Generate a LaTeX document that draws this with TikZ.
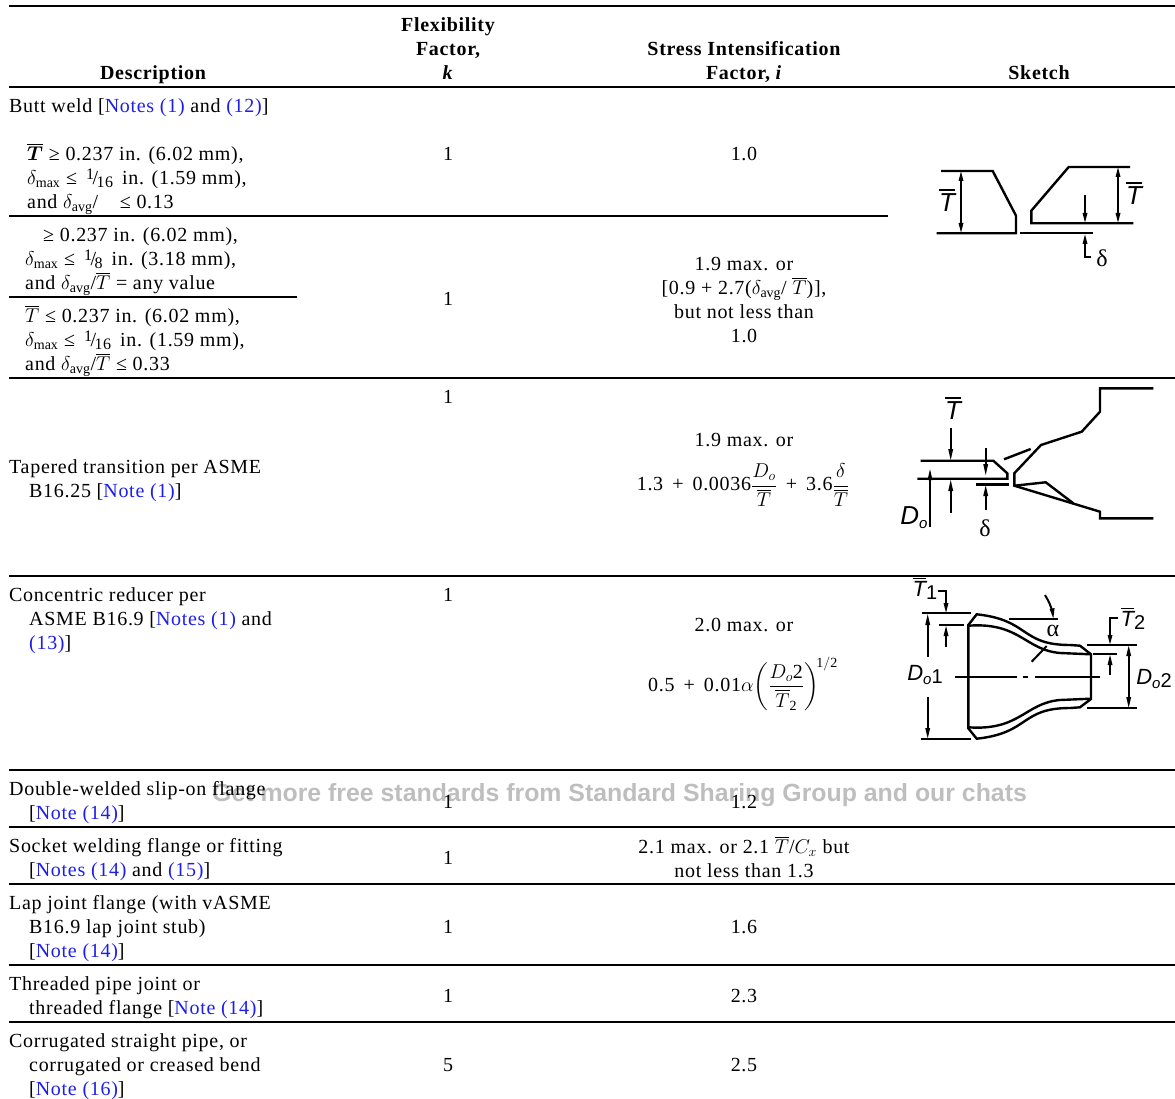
\documentclass[tikz,border=0pt]{standalone}
\usepackage{fix-cm}
\usepackage{amsmath, amssymb}
\usepackage{fontspec}
\setmainfont[LetterSpace=3.5]{Liberation Serif}
\newfontfamily\sketchfont{Liberation Sans}
\newfontfamily\markfont{Liberation Sans}
\usetikzlibrary{arrows,shapes}
\definecolor{noteblue}{RGB}{30,30,235}
\definecolor{markgray}{RGB}{190,190,190}
\newcommand{\note}[1]{\textcolor{noteblue}{#1}}
\newcommand{\frc}[2]{\,\raisebox{.55ex}{\fontsize{16}{16}\selectfont #1}\kern-.08em/\kern-.08em\raisebox{-.35ex}{\fontsize{16}{16}\selectfont #2}\,}
\newcommand{\Tb}{$\overline{T}$}
\newcommand{\sT}{$\overline{\mbox{\sketchfont\itshape T}}$}
\newcommand{\sub}[1]{\raisebox{-.3ex}{\fontsize{15}{15}\selectfont #1}}
\newcommand{\num}[1]{\raisebox{-.25ex}{\upshape\fontsize{20}{20}\selectfont #1}}
\begin{document}
\begin{tikzpicture}[x=1pt,y=1pt]
\tikzstyle{every node}+=[inner sep=0pt]
\tikzstyle{cell}=[anchor=base west,align=left,yshift=-0.7pt,font=\fontsize{20}{24}\selectfont]
\tikzstyle{mid}=[anchor=base,align=center,yshift=-0.7pt,font=\fontsize{20}{24}\selectfont]
\tikzstyle{head}=[anchor=base,align=center,yshift=-0.7pt,font=\fontsize{20}{24}\selectfont\bfseries]
\tikzstyle{eqn}=[anchor=center,font=\fontsize{20}{24}\selectfont]
\tikzstyle{dim}=[anchor=center,font=\fontsize{26}{26}\selectfont\sketchfont\itshape]
\tikzstyle{dimsmall}=[anchor=center,font=\fontsize{22}{22}\selectfont\sketchfont\itshape]
\tikzstyle{sym}=[anchor=center,font=\fontsize{24}{24}\selectfont]
\tikzstyle{tbl}=[black,line width=2pt]
\tikzstyle{ske}=[black,line width=2.4pt]
\tikzstyle{arw}=[black,line width=2pt]
\useasboundingbox (0,0) rectangle (1175,-1099);
\draw (212,-801) node [anchor=base west,text=markgray,font=\fontsize{24.85}{24}\selectfont\markfont\bfseries] (watermark) {Get more free standards from Standard Sharing Group and our chats};
\draw [tbl] (9,-6) -- (1175,-6);
\draw [tbl] (9,-87) -- (1175,-87);
\draw [tbl] (9,-216) -- (888,-216);
\draw [tbl] (9,-297) -- (297,-297);
\draw [tbl] (9,-378) -- (1175,-378);
\draw [tbl] (9,-576) -- (1175,-576);
\draw [tbl] (9,-770) -- (1175,-770);
\draw [tbl] (9,-827) -- (1175,-827);
\draw [tbl] (9,-884) -- (1175,-884);
\draw [tbl] (9,-965) -- (1175,-965);
\draw [tbl] (9,-1022) -- (1175,-1022);
\node [head] (headdesc) at (153,-79) {Description};
\node [head] (headflex) at (448,-79) {Flexibility\\Factor,\\\textit{k}};
\node [head] (headstress) at (744,-79) {Stress Intensification\\Factor, \textit{i}};
\node [head] (headsketch) at (1039,-79) {Sketch};
\node [cell] (butt) at (9,-112) {Butt weld [\note{Notes (1)} and \note{(12)}]};
\node [cell] (buttone) at (27,-208) {$\boldsymbol{\overline{T}}$ ≥ 0.237 in. (6.02 mm),\\$\delta_{\mathrm{max}}$ ≤ \frc{1}{16} in. (1.59 mm),\\and $\delta_{\mathrm{avg}}$/\hspace{16pt} ≤ 0.13};
\node [cell] (butttwo) at (25,-289) {\hspace{18pt}≥ 0.237 in. (6.02 mm),\\$\delta_{\mathrm{max}}$ ≤ \frc{1}{8} in. (3.18 mm),\\and $\delta_{\mathrm{avg}}$/\Tb{} = any value};
\node [cell] (buttthree) at (25,-370) {\Tb{} ≤ 0.237 in. (6.02 mm),\\$\delta_{\mathrm{max}}$ ≤ \frc{1}{16} in. (1.59 mm),\\and $\delta_{\mathrm{avg}}$/\Tb{} ≤ 0.33};
\node [cell] (taper) at (9,-497) {Tapered transition per ASME\\\hspace*{20pt}B16.25 [\note{Note (1)}]};
\node [cell] (reducer) at (9,-649) {Concentric reducer per\\\hspace*{20pt}ASME B16.9 [\note{Notes (1)} and\\\hspace*{20pt}\note{(13)}]};
\node [cell] (slipon) at (9,-819) {Double-welded slip-on flange\\\hspace*{20pt}[\note{Note (14)}]};
\node [cell] (socket) at (9,-876) {Socket welding flange or fitting\\\hspace*{20pt}[\note{Notes (14)} and \note{(15)}]};
\node [cell] (lap) at (9,-957) {Lap joint flange (with vASME\\\hspace*{20pt}B16.9 lap joint stub)\\\hspace*{20pt}[\note{Note (14)}]};
\node [cell] (thread) at (9,-1014) {Threaded pipe joint or\\\hspace*{20pt}threaded flange [\note{Note (14)}]};
\node [cell] (corrug) at (9,-1095) {Corrugated straight pipe, or\\\hspace*{20pt}corrugated or creased bend\\\hspace*{20pt}[\note{Note (16)}]};
\node [mid] (kbuttone) at (448,-160) {1};
\node [mid] (kbutttwo) at (448,-305) {1};
\node [mid] (ktaper) at (448,-403) {1};
\node [mid] (kreducer) at (448,-601) {1};
\node [mid] (kslipon) at (448,-808) {1};
\node [mid] (ksocket) at (448,-864) {1};
\node [mid] (klap) at (448,-933) {1};
\node [mid] (kthread) at (448,-1002) {1};
\node [mid] (kcorrug) at (448,-1071) {5};
\node [mid] (ibuttone) at (744,-160) {1.0};
\node [mid] (ibutttwo) at (744,-342) {1.9 max. or\\{}[0.9 + 2.7($\delta_{\mathrm{avg}}$/ \Tb)],\\but not less than\\1.0};
\node [mid] (itaper) at (744,-446) {1.9 max. or};
\node [eqn] (eqtaper) at (743,-485) {1.3 \,+\, 0.0036$\dfrac{D_o}{\overline{T}}$ \,+\, 3.6$\dfrac{\delta}{\overline{T}}$};
\node [mid] (ireducer) at (744,-631) {2.0 max. or};
\node [eqn] (eqreducer) at (743,-684) {0.5 \,+\, 0.01$\alpha\!\left(\dfrac{D_{o}\mathrm{2}}{\overline{T}_{\mathrm{2}}}\right)^{\!\mathrm{1/2}}$};
\node [mid] (islipon) at (744,-808) {1.2};
\node [mid] (isocket) at (744,-877) {2.1 max. or 2.1 \Tb/$C_x$ but\\not less than 1.3};
\node [mid] (ilap) at (744,-933) {1.6};
\node [mid] (ithread) at (744,-1002) {2.3};
\node [mid] (icorrug) at (744,-1071) {2.5};
\draw [ske] (941,-171) -- (992.7,-171) -- (1016,-215.7) -- (1016,-233.3) -- (936.7,-233.3);
\draw [arw] (961,-177) -- (961,-227);
\fill [black] (961,-171.5) -- (958.5,-181) -- (963.5,-181);
\fill [black] (961,-232.5) -- (958.5,-223) -- (963.5,-223);
\draw [ske] (1130,-167) -- (1068.7,-167) -- (1031.3,-210.7) -- (1031.3,-223.3) -- (1133.3,-223.3);
\draw [arw] (1118,-173) -- (1118,-217);
\fill [black] (1118,-167.5) -- (1115.5,-177) -- (1120.5,-177);
\fill [black] (1118,-222.5) -- (1115.5,-213) -- (1120.5,-213);
\draw [arw] (1085,-195) -- (1085,-216);
\fill [black] (1085,-222.5) -- (1082.5,-213) -- (1087.5,-213);
\draw [ske] (1020,-233.3) -- (1093.3,-233.3);
\draw [ske] (1091.3,-257) -- (1085,-257) -- (1085,-241);
\fill [black] (1085,-234.5) -- (1082.5,-244) -- (1087.5,-244);
\node [dim] (tleft) at (947,-200) {\sT};
\node [dim] (tright) at (1134,-193) {\sT};
\node [sym] (dbutt) at (1102,-258) {δ};
\draw [ske] (1153.3,-388.3) -- (1100,-388.3) -- (1100,-411.7) -- (1081.7,-431.7) -- (1041,-445) -- (1014.3,-473.3) -- (1014.3,-485.7) -- (1100,-511.7) -- (1100,-518.3) -- (1153.3,-518.3);
\draw [ske] (1014.3,-485.7) -- (1045.7,-482.3) -- (1073.3,-503.3);
\draw [ske] (920.7,-460.7) -- (993.3,-460.7) -- (1007.3,-473.3) -- (1007.3,-478.7) -- (917.3,-478.7);
\draw [ske] (1004,-459.3) -- (1030.7,-449);
\draw [ske] (976,-484.3) -- (1009.3,-484.3);
\draw [arw] (950.7,-428.3) -- (950.7,-452);
\fill [black] (950.7,-460) -- (948.2,-449) -- (953.2,-449);
\draw [arw] (950.7,-512.7) -- (950.7,-490);
\fill [black] (950.7,-480) -- (948.2,-491) -- (953.2,-491);
\draw [arw] (930,-526.7) -- (930,-478);
\fill [black] (930,-469.3) -- (927.5,-480) -- (932.5,-480);
\draw [arw] (985.7,-448.3) -- (985.7,-466);
\fill [black] (985.7,-475) -- (983.2,-464) -- (988.2,-464);
\draw [arw] (985.7,-510) -- (985.7,-494);
\fill [black] (985.7,-485.5) -- (983.2,-496) -- (988.2,-496);
\node [dim] (ttaper) at (953,-408) {\sT};
\node [sym] (dtaper) at (985,-528.3) {δ};
\node [dim] (dotaper) at (914,-518) {D\sub{o}};
\draw [ske] (968.3,-625) -- (976.7,-614.3) .. controls (1030,-620) and (1020,-645) .. (1070,-645) -- (1080,-645.7) -- (1091,-654.3) -- (1091,-699) -- (1080,-707.3) -- (1070,-708) .. controls (1020,-708) and (1030,-733) .. (976.7,-738.7) -- (968.3,-728.3) -- cycle;
\draw [ske] (968.3,-625.7) .. controls (1020,-622) and (1025,-650) .. (1060,-653) -- (1091,-654.3);
\draw [ske] (968.3,-727.3) .. controls (1020,-731) and (1025,-703) .. (1060,-700) -- (1091,-698.7);
\draw [arw] (955,-676.7) -- (1016.7,-676.7);
\draw [arw] (1022.7,-676.7) -- (1028.3,-676.7);
\draw [arw] (1035,-676.7) -- (1100,-676.7);
\draw [arw] (921.7,-613.3) -- (971,-613.3);
\draw [arw] (939.3,-625) -- (964,-625);
\draw [arw] (920.7,-739) -- (971,-739);
\draw [arw] (927.7,-656.7) -- (927.7,-622);
\fill [black] (927.7,-614.3) -- (925.2,-625) -- (930.2,-625);
\draw [arw] (927.7,-696.7) -- (927.7,-730);
\fill [black] (927.7,-738.3) -- (925.2,-728) -- (930.2,-728);
\draw [arw] (938.3,-590.7) -- (946,-590.7) -- (946,-606);
\fill [black] (946,-612.7) -- (943.5,-603) -- (948.5,-603);
\draw [arw] (946,-646.7) -- (946,-632);
\fill [black] (946,-626) -- (943.5,-636) -- (948.5,-636);
\draw [arw] (1045,-595) .. controls (1049,-602) and (1051,-606) .. (1052,-611);
\fill [black] (1053.3,-618.3) -- (1049.6,-609) -- (1054.6,-608);
\draw [arw] (1009.3,-619) -- (1058.3,-619);
\draw [arw] (1031.7,-661.7) -- (1046.7,-646);
\node [sym] (alpha) at (1053,-631) {α};
\draw [arw] (1086.7,-645) -- (1136.7,-645);
\draw [arw] (1093.3,-653.7) -- (1116.7,-653.7);
\draw [arw] (1087.3,-708.3) -- (1136.7,-708.3);
\draw [arw] (1117.7,-617.7) -- (1110,-617.7) -- (1110,-638);
\fill [black] (1110,-644.3) -- (1107.5,-635) -- (1112.5,-635);
\draw [arw] (1110,-675) -- (1110,-661);
\fill [black] (1110,-655) -- (1107.5,-665) -- (1112.5,-665);
\draw [arw] (1128.7,-652) -- (1128.7,-701);
\fill [black] (1128.7,-645.7) -- (1126.2,-656) -- (1131.2,-656);
\fill [black] (1128.7,-707.7) -- (1126.2,-697) -- (1131.2,-697);
\node [dimsmall] (tone) at (925,-588) {\sT\num{1}};
\node [dimsmall] (ttwo) at (1133,-618) {\sT\num{2}};
\node [dimsmall] (doone) at (925,-675) {D\sub{o}\num{1}};
\node [dimsmall] (dotwo) at (1154,-679) {D\sub{o}\num{2}};
\end{tikzpicture}
\end{document}
